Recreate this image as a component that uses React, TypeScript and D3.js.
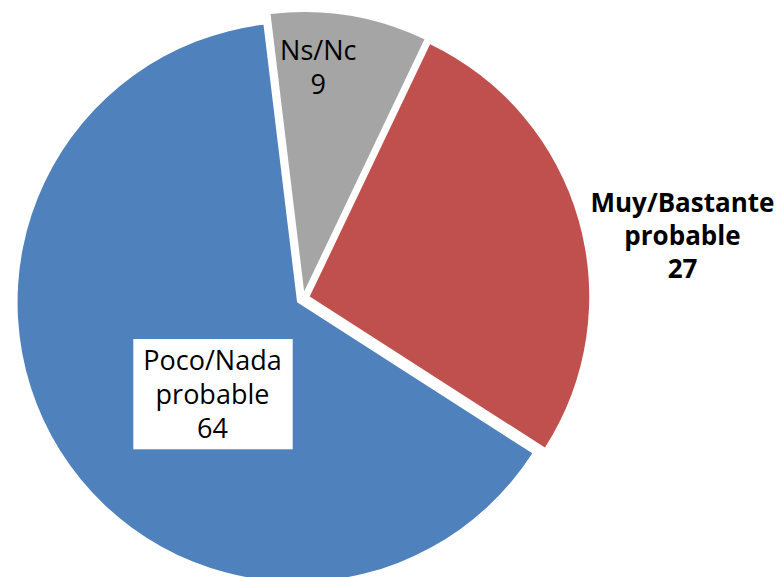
import React from "react";
import * as d3 from "d3";

// ---- data ----
const categories = ["Muy/Bastante probable", "Poco/Nada probable", "Ns/Nc"];
const values = [27, 64, 9];
const colors = ["#C0504D", "#4F81BD", "#A5A5A5"];
const labelLines = [["Muy/Bastante", "probable"], ["Poco/Nada", "probable"], ["Ns/Nc"]];

// ---- layout ----
const W = 780;
const H = 577;
const CX = 303;
const CY = 298.5;
const R = 279.5;
const EXPLODE = 7;
const START = (25.5 * Math.PI) / 180;

const labelLayout = [
  { x: 682.5, y: 211.7, bold: true, size: 26, lh: 33.3, box: null as null | { x: number; y: number; w: number; h: number } },
  { x: 212.5, y: 370, bold: false, size: 27, lh: 34, box: { x: 133.3, y: 339, w: 159.4, h: 110.3 } },
  { x: 318.3, y: 60, bold: false, size: 27, lh: 34.3, box: null },
];

export default function App() {
  const pie = d3
    .pie<number>()
    .sort(null)
    .startAngle(START)
    .endAngle(START + 2 * Math.PI)(values);
  const arc = d3.arc<d3.PieArcDatum<number>>().innerRadius(0).outerRadius(R);

  return (
    <svg
      width={W}
      height={H}
      style={{ position: "absolute", left: 0, top: 0, background: "#fff" }}
      fontFamily="'Open Sans', 'Noto Sans', sans-serif"
    >
      <g transform={`translate(${CX},${CY})`}>
        {pie.map((a, i) => {
          const mid = (a.startAngle + a.endAngle) / 2;
          const dx = EXPLODE * Math.sin(mid);
          const dy = -EXPLODE * Math.cos(mid);
          return (
            <path
              key={categories[i]}
              d={arc(a) || ""}
              transform={`translate(${dx},${dy})`}
              fill={colors[i]}
            />
          );
        })}
      </g>
      {labelLayout.map((l, i) => {
        const lines = [...labelLines[i], String(values[i])];
        return (
          <g key={"lab" + i}>
            {l.box && <rect x={l.box.x} y={l.box.y} width={l.box.w} height={l.box.h} fill="#fff" />}
            <text
              x={l.x}
              y={l.y}
              textAnchor="middle"
              fontSize={l.size}
              fontWeight={l.bold ? 700 : 400}
              fill="#000"
            >
              {lines.map((t, j) => (
                <tspan key={j} x={l.x} y={l.y + j * l.lh}>
                  {t}
                </tspan>
              ))}
            </text>
          </g>
        );
      })}
    </svg>
  );
}
